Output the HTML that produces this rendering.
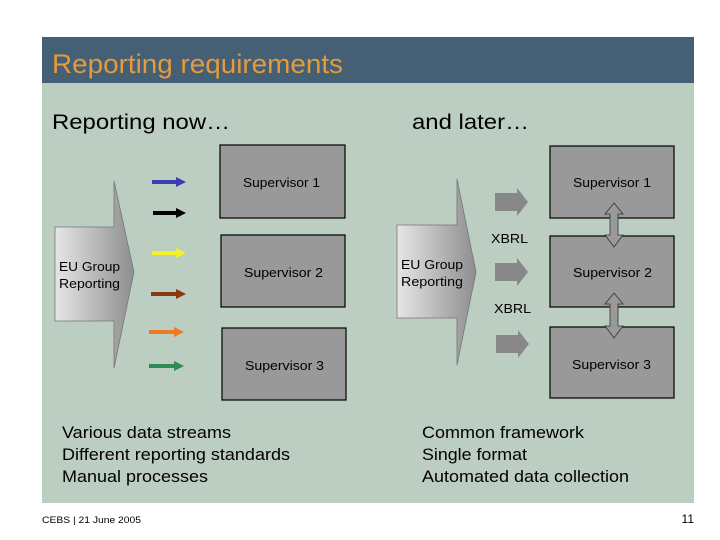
<!DOCTYPE html>
<html><head><meta charset="utf-8"><style>
body{margin:0;background:#fff;}
svg{display:block;font-family:"Liberation Sans",Arial,sans-serif;}
</style></head><body>
<svg width="720" height="540" viewBox="0 0 720 540" xmlns="http://www.w3.org/2000/svg">
<defs>
<linearGradient id="g" x1="0" x2="1" y1="0" y2="0">
<stop offset="0" stop-color="#e6e6e6"/><stop offset="1" stop-color="#8e8e8e"/>
</linearGradient>
</defs>
<rect x="42" y="37" width="652" height="466" fill="#bccdc2"/>
<rect x="42" y="37" width="652" height="46" fill="#455f75"/>
<text x="52" y="73" font-size="27" fill="#e59a3c" textLength="291" lengthAdjust="spacingAndGlyphs">Reporting requirements</text>
<text x="52" y="129" font-size="21" fill="#000" textLength="178" lengthAdjust="spacingAndGlyphs">Reporting now…</text>
<text x="412" y="129" font-size="21" fill="#000" textLength="117" lengthAdjust="spacingAndGlyphs">and later…</text>

<polygon points="55,227 114,227 114,181 134,272 114,368 114,321 55,321" fill="url(#g)" stroke="#777" stroke-width="0.8"/>
<text x="59" y="271" font-size="13" textLength="61" lengthAdjust="spacingAndGlyphs">EU Group</text>
<text x="59" y="288" font-size="13" textLength="61" lengthAdjust="spacingAndGlyphs">Reporting</text>

<g stroke="#000" stroke-width="1.2" fill="#999">
<rect x="220" y="145" width="125" height="73"/>
<rect x="221" y="235" width="124" height="72"/>
<rect x="222" y="328" width="124" height="72"/>
</g>
<g font-size="13">
<text x="243" y="187" textLength="77" lengthAdjust="spacingAndGlyphs">Supervisor 1</text>
<text x="244" y="277" textLength="79" lengthAdjust="spacingAndGlyphs">Supervisor 2</text>
<text x="245" y="370" textLength="79" lengthAdjust="spacingAndGlyphs">Supervisor 3</text>
</g>

<g stroke-width="4">
<line x1="152" y1="182" x2="178" y2="182" stroke="#3a3fb5"/>
<polygon points="176,177 186,182 176,187" fill="#3a3fb5"/>
<line x1="153" y1="213" x2="178" y2="213" stroke="#000"/>
<polygon points="176,208 186,213 176,218" fill="#000"/>
<line x1="152" y1="253" x2="178" y2="253" stroke="#f4f02a"/>
<polygon points="176,248 186,253 176,258" fill="#f4f02a"/>
<line x1="151" y1="294" x2="178" y2="294" stroke="#8a3a12"/>
<polygon points="176,289 186,294 176,299" fill="#8a3a12"/>
<line x1="149" y1="332" x2="176" y2="332" stroke="#f07a22"/>
<polygon points="174,327 184,332 174,337" fill="#f07a22"/>
<line x1="149" y1="366" x2="176" y2="366" stroke="#2f8a55"/>
<polygon points="174,361 184,366 174,371" fill="#2f8a55"/>
</g>

<polygon points="397,225 457,225 457,179 476,272 457,365 457,318 397,318" fill="url(#g)" stroke="#777" stroke-width="0.8"/>
<text x="401" y="269" font-size="13" textLength="62" lengthAdjust="spacingAndGlyphs">EU Group</text>
<text x="401" y="286" font-size="13" textLength="62" lengthAdjust="spacingAndGlyphs">Reporting</text>

<g stroke="#000" stroke-width="1.2" fill="#999">
<rect x="550" y="146" width="124" height="72"/>
<rect x="550" y="236" width="124" height="71"/>
<rect x="550" y="327" width="124" height="71"/>
</g>
<g font-size="13">
<text x="573" y="187" textLength="78" lengthAdjust="spacingAndGlyphs">Supervisor 1</text>
<text x="573" y="277" textLength="79" lengthAdjust="spacingAndGlyphs">Supervisor 2</text>
<text x="572" y="369" textLength="79" lengthAdjust="spacingAndGlyphs">Supervisor 3</text>
</g>

<g fill="#888">
<polygon points="495,193 517,193 517,188 528,202 517,216 517,211 495,211"/>
<polygon points="495,263 517,263 517,258 528,272 517,286 517,281 495,281"/>
<polygon points="496,335 518,335 518,330 529,344 518,358 518,353 496,353"/>
</g>
<text x="491" y="243" font-size="13" textLength="37" lengthAdjust="spacingAndGlyphs">XBRL</text>
<text x="494" y="313" font-size="13" textLength="37" lengthAdjust="spacingAndGlyphs">XBRL</text>

<g fill="#999" stroke="#333" stroke-width="0.8">
<polygon points="614,203 623,214 618,214 618,235 623,235 614,247 605,235 610,235 610,214 605,214"/>
<polygon points="614,293 623,304 618,304 618,326 623,326 614,338 605,326 610,326 610,304 605,304"/>
</g>

<g font-size="17">
<text x="62" y="438" textLength="169" lengthAdjust="spacingAndGlyphs">Various data streams</text>
<text x="62" y="460" textLength="228" lengthAdjust="spacingAndGlyphs">Different reporting standards</text>
<text x="62" y="482" textLength="146" lengthAdjust="spacingAndGlyphs">Manual processes</text>
<text x="422" y="438" textLength="162" lengthAdjust="spacingAndGlyphs">Common framework</text>
<text x="422" y="460" textLength="105" lengthAdjust="spacingAndGlyphs">Single format</text>
<text x="422" y="482" textLength="207" lengthAdjust="spacingAndGlyphs">Automated data collection</text>
</g>
<text x="42" y="523" font-size="9" textLength="99" lengthAdjust="spacingAndGlyphs">CEBS | 21 June 2005</text>
<text x="694" y="523" font-size="12" text-anchor="end">11</text>
</svg>
</body></html>
